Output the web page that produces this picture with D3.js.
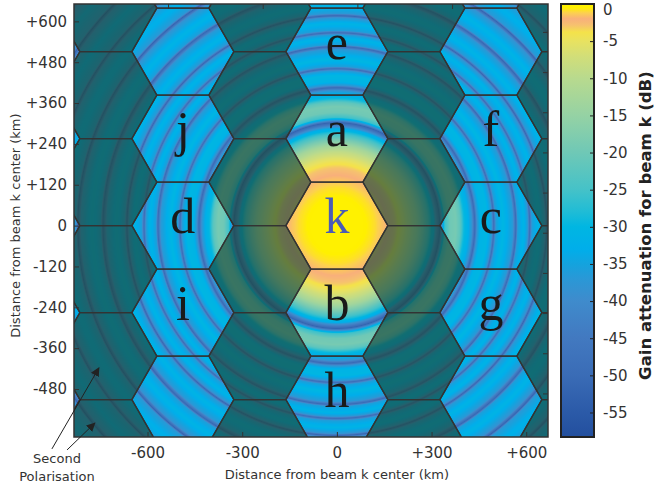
<!DOCTYPE html>
<html>
<head>
<meta charset="utf-8">
<script src="https://cdn.jsdelivr.net/npm/d3@7"></script>
<style>
body { margin: 0; background: #fff; }
text { font-family: "DejaVu Sans", Verdana, sans-serif; fill: #333; }
</style>
</head>
<body>
<script>
// radial gain profile of beam k (distance in km, gain in dB)
var profileKm = [0, 79, 120, 146, 165, 184, 200, 215, 234, 253, 272, 291, 307, 320, 326, 333, 342, 358, 377, 390, 402, 415, 428, 437, 444, 456, 475, 491, 497, 504, 526, 558, 567, 573, 592, 605, 611, 618, 640, 659, 665, 672, 697, 729, 741, 748, 776, 811, 821, 827, 862, 897, 906, 912, 950, 985, 995, 1001, 1045, 1077, 1087, 1096, 1140];
var profileDb = [0, -0.3, -0.9, -1.6, -2.2, -3.0, -4.2, -6, -9, -13, -19, -26, -33, -46, -52, -38, -26, -20, -19, -22, -29, -32, -38, -50, -38, -31, -30, -37, -49, -36, -30, -37, -50, -36, -31, -37, -49, -36, -31, -38, -51, -37, -31, -37, -51, -36, -31, -38, -52, -37, -32, -38, -52, -37, -33, -39, -53, -38, -34, -40, -54, -40, -36];

// colour bar
var cbStopsDb = [-58.3, -55, -50, -45, -40, -37, -35, -33, -30, -28, -25, -20, -15, -10, -7, -5, -3.8, -2.8, -2, -1.2, -0.5, 0];
var cbStopsColor = ["#234f9e", "#2b5aa8", "#3a6cb6", "#4279c0", "#3f8bcc", "#2a98d6", "#14a3de", "#00aeea", "#00b6e2", "#1fbcd6", "#45c2c8", "#6fc8b6", "#95d2a4", "#b8da8e", "#d2de78", "#e8e260", "#f4e24a", "#f6c070", "#f8b07a", "#fcd050", "#fff000", "#fff200"];
var cbTicks = [0, -5, -10, -15, -20, -25, -30, -35, -40, -45, -50, -55];

// axes
var xTicks = [-600, -300, 0, 300, 600];
var yTicks = [600, 480, 360, 240, 120, 0, -120, -240, -360, -480];
var topTicks = [-535, -235, 65, 365];
var rightTicks = [569, 451, 333, 215, 97, -21, -139, -257, -375, -493];

// hexagonal beam grid (km)
var hexCols = [-4, -3, -2, -1, 0, 1, 2, 3];
var hexRows = [-3, -2, -1, 0, 1, 2, 3];
var colStep = 244, rowStep = 255.6;
var hexHalfW = 161.6, hexHalfTop = 82.4, hexHalfH = 127.8;

var beamNames = ["e", "a", "k", "b", "h", "j", "d", "i", "f", "c", "g"];
var beamCols = [0, 0, 0, 0, 0, -2, -2, -2, 2, 2, 2];
var beamRows = [2, 1, 0, -1, -2, 1, 0, -1, 1, 0, -1];

// second polarisation arrows (km)
var arrowTails = [[-903, -656], [-855, -659]];
var arrowTips = [[-754, -418], [-767, -580]];

var w = 655, h = 488;
var plotL = 74, plotR = 548, plotT = 4, plotB = 437;

var xScale = d3.scaleLinear().domain([-833, 669]).range([plotL, plotR]);
var yScale = d3.scaleLinear().domain([-621, 651]).range([plotB, plotT]);
var gainScale = d3.scaleLinear().domain(profileKm).range(profileDb).clamp(true);
var colorScale = d3.scaleLinear().domain(cbStopsDb).range(cbStopsColor).clamp(true);

var svg = d3.select("body").append("svg")
	.attr("width", w)
	.attr("height", h);

var defs = svg.append("defs");
defs.append("clipPath").attr("id", "plotclip")
	.append("rect")
	.attr("x", plotL).attr("y", plotT)
	.attr("width", plotR - plotL).attr("height", plotB - plotT);

// heat map of beam k gain, painted on a canvas then put in the svg
var cw = plotR - plotL, ch = plotB - plotT;
var canvas = document.createElement("canvas");
canvas.width = cw;
canvas.height = ch;
var ctx = canvas.getContext("2d");
var img = ctx.createImageData(cw, ch);
var cx = xScale(0), cy = yScale(0);
var kmPerPx = 1 / (xScale(1) - xScale(0));
// lookup table so we do not parse a colour for every pixel
var lut = [];
for (var q = 0; q <= 1200; q++) {
	lut.push(d3.rgb(colorScale(-q * 0.05)));
}
for (var j = 0; j < ch; j++) {
	for (var i = 0; i < cw; i++) {
		var r = Math.hypot(plotL + i + 0.5 - cx, plotT + j + 0.5 - cy) * kmPerPx;
		var db = gainScale(r);
		var c = lut[Math.min(1200, Math.round(-db / 0.05))];
		var k = (j * cw + i) * 4;
		img.data[k] = c.r;
		img.data[k + 1] = c.g;
		img.data[k + 2] = c.b;
		img.data[k + 3] = 255;
	}
}
ctx.putImageData(img, 0, 0);
svg.append("image")
	.attr("x", plotL).attr("y", plotT)
	.attr("width", cw).attr("height", ch)
	.attr("preserveAspectRatio", "none")
	.attr("href", canvas.toDataURL());

// hexagons
var hexes = [];
hexCols.forEach(function (col) {
	hexRows.forEach(function (row) {
		var odd = Math.abs(col) % 2 === 1;
		hexes.push({
			x: col * colStep,
			y: (row + (odd ? 0.5 : 0)) * rowStep,
			second: odd
		});
	});
});

var hexLine = d3.line()
	.x(function (p) { return xScale(p[0]); })
	.y(function (p) { return yScale(p[1]); });

function hexPath(d) {
	var pts = [
		[d.x + hexHalfW, d.y],
		[d.x + hexHalfTop, d.y + hexHalfH],
		[d.x - hexHalfTop, d.y + hexHalfH],
		[d.x - hexHalfW, d.y],
		[d.x - hexHalfTop, d.y - hexHalfH],
		[d.x + hexHalfTop, d.y - hexHalfH]
	];
	return hexLine(pts) + "Z";
}

var hexG = svg.append("g").attr("clip-path", "url(#plotclip)");
hexG.selectAll("path.hex")
	.data(hexes)
	.enter()
	.append("path")
	.attr("class", "hex")
	.attr("d", hexPath)
	.attr("fill", function (d) { return d.second ? "#194637" : "none"; })
	.attr("fill-opacity", 0.65)
	.attr("stroke", "#333")
	.attr("stroke-width", 1.3);

// beam letters
hexG.selectAll("text.beam")
	.data(beamNames)
	.enter()
	.append("text")
	.attr("class", "beam")
	.attr("x", function (d, i) { return xScale(beamCols[i] * colStep); })
	.attr("y", function (d, i) { return yScale(beamRows[i] * rowStep); })
	.attr("dy", "0.15em")
	.attr("text-anchor", "middle")
	.style("font-family", "'Liberation Serif', 'DejaVu Serif', serif")
	.style("font-size", "50px")
	.style("fill", function (d) { return d === "k" ? "#4b5bb5" : "#1a1a1a"; })
	.text(function (d) { return d; });

// axes, ticks pointing inwards
var xAxis = d3.axisBottom(xScale).tickValues(xTicks).tickSize(-5).tickPadding(10)
	.tickFormat(function (d) { return d > 0 ? "+" + d : String(d); });
var yAxis = d3.axisLeft(yScale).tickValues(yTicks).tickSize(-5).tickPadding(7)
	.tickFormat(function (d) { return d > 0 ? "+" + d : String(d); });

var gx = svg.append("g").attr("transform", "translate(0," + plotB + ")").call(xAxis);
var gy = svg.append("g").attr("transform", "translate(" + plotL + ",0)").call(yAxis);
svg.append("g").attr("transform", "translate(0," + plotT + ")")
	.call(d3.axisTop(xScale).tickValues(topTicks).tickSize(-5).tickFormat(""));
svg.append("g").attr("transform", "translate(" + plotR + ",0)")
	.call(d3.axisRight(yScale).tickValues(rightTicks).tickSize(-5).tickFormat(""));

svg.selectAll(".domain").remove();
svg.selectAll(".tick line").attr("stroke", "#333");
gx.selectAll("text").style("font-size", "15px").style("fill", "#333");
gy.selectAll("text").style("font-size", "15px").style("fill", "#333");

svg.append("rect")
	.attr("x", plotL).attr("y", plotT)
	.attr("width", plotR - plotL).attr("height", plotB - plotT)
	.attr("fill", "none")
	.attr("stroke", "#333")
	.attr("stroke-width", 1.5);

svg.append("text")
	.attr("x", xScale(0))
	.attr("y", 479)
	.attr("text-anchor", "middle")
	.style("font-size", "13px")
	.text("Distance from beam k center (km)");

svg.append("text")
	.attr("transform", "translate(20," + yScale(0) + ") rotate(-90)")
	.attr("text-anchor", "middle")
	.style("font-size", "13px")
	.text("Distance from beam k center (km)");

// colour bar
var cbL = 561, cbR = 594;
var cbScale = d3.scaleLinear().domain([-58.3, 0]).range([plotB, plotT]);
var grad = defs.append("linearGradient")
	.attr("id", "cbgrad")
	.attr("x1", 0).attr("y1", 0).attr("x2", 0).attr("y2", 1);
// stops must go top (0 dB) to bottom
grad.selectAll("stop")
	.data(cbStopsDb.slice().reverse())
	.enter()
	.append("stop")
	.attr("offset", function (d) { return (cbScale(d) - plotT) / (plotB - plotT); })
	.attr("stop-color", function (d) { return colorScale(d); });

svg.append("rect")
	.attr("x", cbL).attr("y", plotT)
	.attr("width", cbR - cbL).attr("height", plotB - plotT)
	.attr("fill", "url(#cbgrad)")
	.attr("stroke", "#222")
	.attr("stroke-width", 2);

var gcb = svg.append("g").attr("transform", "translate(" + cbR + ",0)")
	.call(d3.axisRight(cbScale).tickValues(cbTicks).tickSize(-4).tickPadding(9)
		.tickFormat(function (d) { return String(d); }));
gcb.select(".domain").remove();
gcb.selectAll(".tick line").attr("stroke", "#222");
gcb.selectAll("text").style("font-size", "15px").style("fill", "#333")
	.attr("dy", function (d) { return d === 0 ? "0.68em" : "0.32em"; });

svg.append("text")
	.attr("transform", "translate(651," + yScale(0) + ") rotate(-90)")
	.attr("text-anchor", "middle")
	.style("font-size", "16.5px")
	.style("font-weight", "bold")
	.style("fill", "#222")
	.text("Gain attenuation for beam k (dB)");

// second polarisation note
defs.append("marker")
	.attr("id", "arrowhead")
	.attr("viewBox", "0 0 10 10")
	.attr("refX", 9).attr("refY", 5)
	.attr("markerWidth", 9).attr("markerHeight", 9)
	.attr("markerUnits", "userSpaceOnUse")
	.attr("orient", "auto")
	.append("path")
	.attr("d", "M0,0 L10,5 L0,10 Z")
	.attr("fill", "#222");

svg.selectAll("line.arrow")
	.data(arrowTips)
	.enter()
	.append("line")
	.attr("class", "arrow")
	.attr("x1", function (d, i) { return xScale(arrowTails[i][0]); })
	.attr("y1", function (d, i) { return yScale(arrowTails[i][1]); })
	.attr("x2", function (d) { return xScale(d[0]); })
	.attr("y2", function (d) { return yScale(d[1]); })
	.attr("stroke", "#222")
	.attr("stroke-width", 1)
	.attr("marker-end", "url(#arrowhead)");

svg.append("text").attr("x", 57).attr("y", 463).attr("text-anchor", "middle")
	.style("font-size", "13px").text("Second");
svg.append("text").attr("x", 57).attr("y", 481).attr("text-anchor", "middle")
	.style("font-size", "13px").text("Polarisation");
</script>
</body>
</html>
